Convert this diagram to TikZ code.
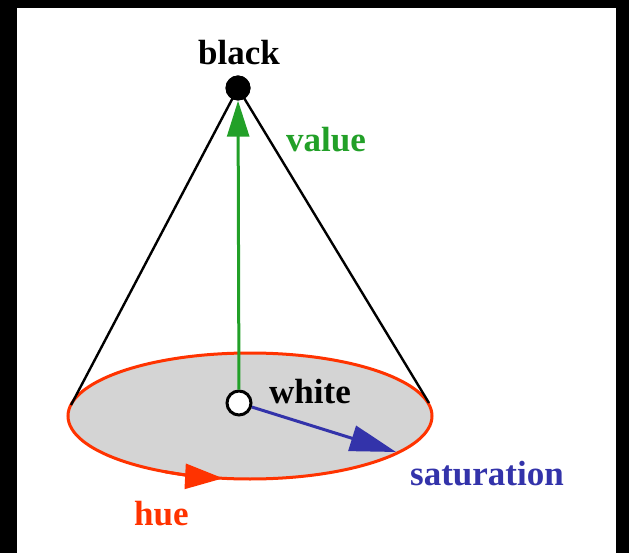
\documentclass[tikz,border=0pt]{standalone}
\usepackage{fontspec}
\setmainfont{Liberation Serif}
\usetikzlibrary{arrows.meta}
\definecolor{hsvgreen}{RGB}{34,160,40}
\definecolor{hsvred}{RGB}{255,51,0}
\definecolor{hsvblue}{RGB}{51,51,170}
\definecolor{discgray}{RGB}{212,212,212}
\tikzset{
  lbl/.style={inner sep=0pt, font=\bfseries\fontsize{35}{35}\selectfont},
  conel/.style={draw=black, line width=2.4pt},
  dot/.style={circle, inner sep=0pt, minimum size=#1},
}
\begin{document}
\begin{tikzpicture}[x=1pt,y=-1pt]
\useasboundingbox (0,0) rectangle (629,553);
\fill[black] (0,0) rectangle (629,553);
\fill[white] (17,8) rectangle (616,553);
% disc
\coordinate (C) at (250,416);
\filldraw[fill=discgray, draw=hsvred, line width=3pt] (C) ellipse [x radius=182, y radius=63];
% tangent points of the cone
\coordinate (L) at (71,405);
\coordinate (R) at (429,403);
% apex and white point
\node[dot=25pt, fill=black] (apex) at (238,88) {};
\node[dot=24pt, fill=white, draw=black, line width=3pt] (wht) at (239,403) {};
\draw[conel] (apex.center) -- (L);
\draw[conel] (apex.center) -- (R);
\node[dot=25pt, fill=black] at (apex) {};
% value arrow
\draw[hsvgreen, line width=3pt, -{Triangle[length=36pt,width=22pt]}] (wht) -- (apex);
% saturation arrow
\coordinate (sat) at (396,452);
\draw[hsvblue, line width=3pt, -{Triangle[length=46pt,width=26pt]}] (wht) -- (sat);
% hue arrow
\draw[hsvred, line width=3pt, -{Triangle[length=38pt,width=25pt]}]
  ([shift={(118:182 and 63)}]C) arc[start angle=118, end angle=98.5, x radius=182, y radius=63];
% labels
\node[lbl, anchor=base] (tblack) at (239,65) {black};
\node[lbl, anchor=base west, text=hsvgreen] (tvalue) at (286,152) {value};
\node[lbl, anchor=base west] (twhite) at (269,403) {white};
\node[lbl, anchor=base west, text=hsvblue] (tsat) at (410,485) {saturation};
\node[lbl, anchor=base west, text=hsvred] (thue) at (134,525) {hue};
\end{tikzpicture}
\end{document}
